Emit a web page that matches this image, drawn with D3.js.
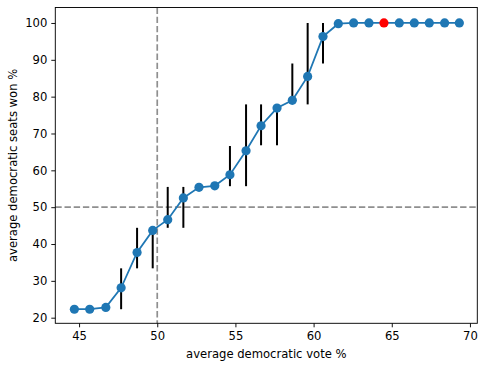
<!DOCTYPE html>
<html>
<head>
<meta charset="utf-8">
<script src="https://cdn.jsdelivr.net/npm/d3@7"></script>
<style>
  html, body { margin: 0; padding: 0; background: #fff; }
  svg { display: block; font-family: "DejaVu Sans", sans-serif; }
</style>
</head>
<body>
<svg id="chart" width="478" height="365"></svg>
<script>
// ---- data ----
const voteShare = [44.70, 45.68, 46.71, 47.69, 48.71, 49.71, 50.67, 51.67, 52.67, 53.68,
                   54.65, 55.68, 56.64, 57.66, 58.64, 59.62, 60.60, 61.58, 62.56, 63.54,
                   64.50, 65.48, 66.44, 67.40, 68.38, 69.32];
const seatShare = [22.3, 22.3, 22.8, 28.1, 37.7, 43.7, 46.6, 52.5, 55.4, 55.8,
                   58.8, 65.3, 72.1, 76.9, 79.0, 85.5, 96.3, 99.8, 100, 100,
                   100, 100, 100, 100, 100, 100];
const errLow  = [null, null, null, 22.3, 33.4, 33.4, 44.4, 44.4, null, null,
                 55.7, 55.7, 66.8, 66.8, 79.0, 77.9, 89.0, null, null, null,
                 null, null, null, null, null, null];
const errHigh = [null, null, null, 33.4, 44.4, 43.6, 55.5, 55.5, null, null,
                 66.6, 77.9, 77.9, 77.8, 89.0, 100, 100, null, null, null,
                 null, null, null, null, null, null];
const highlightIndex = 20;
const xTicks = [45, 50, 55, 60, 65, 70];
const yTicks = [20, 30, 40, 50, 60, 70, 80, 90, 100];
const refX = 50, refY = 50;
const xLabel = "average democratic vote %";
const yLabel = "average democratic seats won %";

// ---- layout ----
const svg = d3.select("#chart");
const L = 55.3, R = 477.3, T = 7.5, B = 323.3;
const FS = 11.6;
const x = d3.scaleLinear().domain([43.48, 70.47]).range([L, R]);
const y = d3.scaleLinear().domain([18.48, 104.2]).range([B, T]);

// reference dashed lines
const g = svg.append("g");
g.append("line").attr("x1", x(refX)).attr("x2", x(refX)).attr("y1", T).attr("y2", B)
  .attr("stroke", "#8f8f8f").attr("stroke-width", 1.7).attr("stroke-dasharray", "6.4,2.8");
g.append("line").attr("x1", L).attr("x2", R).attr("y1", y(refY)).attr("y2", y(refY))
  .attr("stroke", "#8f8f8f").attr("stroke-width", 1.7).attr("stroke-dasharray", "6.4,2.8");

// error bars
const idx = d3.range(voteShare.length).filter(i => errLow[i] !== null);
g.selectAll("line.err").data(idx).enter().append("line").attr("class", "err")
  .attr("x1", i => x(voteShare[i])).attr("x2", i => x(voteShare[i]))
  .attr("y1", i => y(errLow[i])).attr("y2", i => y(errHigh[i]))
  .attr("stroke", "#000").attr("stroke-width", 2);

// line
const pts = voteShare.map((v, i) => [v, seatShare[i]]);
g.append("path").datum(pts)
  .attr("d", d3.line().x(d => x(d[0])).y(d => y(d[1])))
  .attr("fill", "none").attr("stroke", "#1f77b4").attr("stroke-width", 1.74);

// markers
g.selectAll("circle").data(pts).enter().append("circle")
  .attr("cx", d => x(d[0])).attr("cy", d => y(d[1])).attr("r", 4.6)
  .attr("fill", (d, i) => i === highlightIndex ? "#ff0000" : "#1f77b4");

// axes
const xAxis = svg.append("g").attr("transform", `translate(0,${B})`)
  .call(d3.axisBottom(x).tickValues(xTicks).tickSize(4).tickPadding(4).tickFormat(d3.format("d")));
const yAxis = svg.append("g").attr("transform", `translate(${L},0)`)
  .call(d3.axisLeft(y).tickValues(yTicks).tickSize(4).tickPadding(4).tickFormat(d3.format("d")));
[xAxis, yAxis].forEach(a => {
  a.select(".domain").remove();
  a.selectAll("line").attr("stroke", "#000").attr("stroke-width", 0.93);
  a.selectAll("text").attr("font-size", FS).attr("font-family", "DejaVu Sans").attr("fill", "#000");
});

// frame
svg.append("rect").attr("x", L).attr("y", T).attr("width", R - L).attr("height", B - T)
  .attr("fill", "none").attr("stroke", "#000").attr("stroke-width", 0.93);

// labels
svg.append("text").attr("x", (L + R) / 2).attr("y", 358.3).attr("text-anchor", "middle")
  .attr("font-size", FS).attr("fill", "#000").text(xLabel);
svg.append("text").attr("transform", `translate(17.3,${(T + B) / 2}) rotate(-90)`)
  .attr("text-anchor", "middle").attr("font-size", FS).attr("fill", "#000").text(yLabel);
</script>
</body>
</html>
